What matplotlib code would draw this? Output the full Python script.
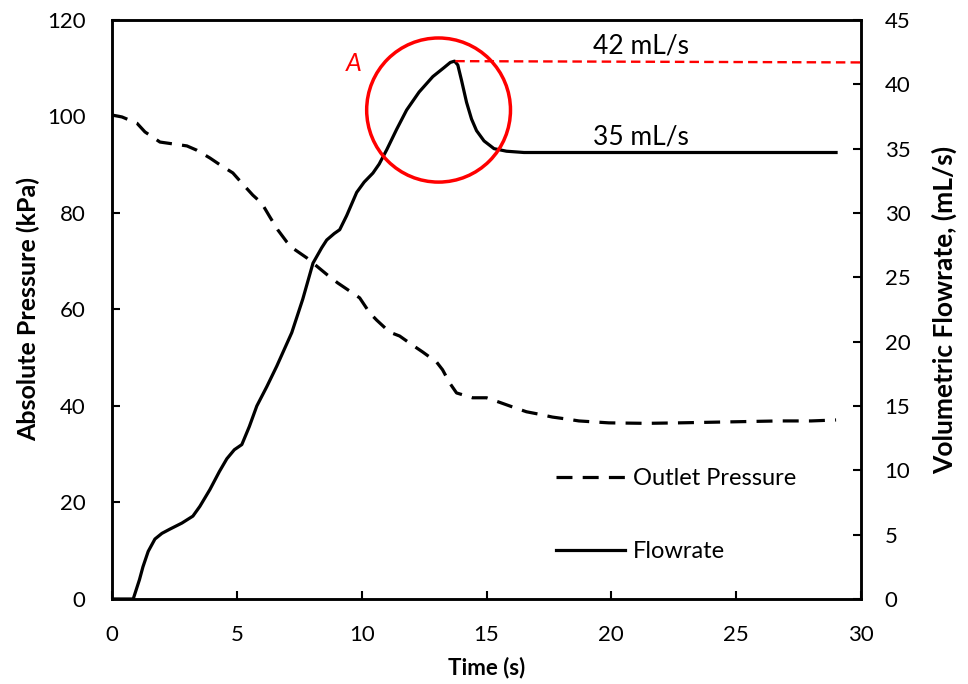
import numpy as np
import matplotlib.pyplot as plt
from matplotlib.patches import Ellipse

plt.rcParams['font.family'] = ['Lato', 'DejaVu Sans']

# flowrate (right axis)
flow_t = [0, 0.5, 0.85, 1.1, 1.24, 1.45, 1.72, 2.0, 2.32, 2.8, 3.24, 3.52, 3.92, 4.3, 4.6,
          4.9, 5.2, 5.5, 5.8, 6.2, 6.6, 7.2, 7.64, 8.05, 8.4, 8.6, 8.9, 9.12, 9.4, 9.8,
          10.1, 10.45, 10.7, 11.0, 11.4, 11.8, 12.3, 12.85, 13.3, 13.55, 13.72, 13.85,
          14.0, 14.2, 14.4, 14.6, 14.9, 15.3, 15.8, 16.5, 18, 20, 22, 24, 26, 28, 29]
flow = [0, 0, 0, 1.5, 2.5, 3.7, 4.66, 5.1, 5.43, 5.9, 6.44, 7.2, 8.5, 9.9, 10.9,
        11.6, 12.0, 13.4, 15.0, 16.5, 18.1, 20.7, 23.3, 26.1, 27.3, 27.9, 28.4, 28.7, 29.8, 31.6,
        32.4, 33.1, 33.8, 34.9, 36.5, 38.0, 39.4, 40.6, 41.3, 41.7, 41.8, 41.5,
        40.3, 38.6, 37.3, 36.4, 35.6, 35.0, 34.8, 34.7, 34.7, 34.7, 34.7, 34.7, 34.7, 34.7, 34.7]

# outlet pressure (left axis)
pres_t = [0, 0.4, 1.0, 1.32, 1.92, 3.0, 3.4, 3.92, 4.32, 4.84, 5.2, 5.64, 6.0, 6.32,
          6.64, 7.0, 7.24, 7.8, 8.64, 9.04, 9.64, 9.92, 10.32, 10.6, 11.12, 11.52, 12.04,
          12.44, 13.0, 13.24, 13.52, 13.8, 14.44, 15.0, 15.5, 16.04, 16.6, 17.1, 17.64,
          18.2, 18.7, 19.9, 21.4, 22.7, 24.7, 26.7, 28.0, 29.0]
pres = [100.3, 99.9, 98.6, 96.8, 94.7, 93.9, 93.0, 91.4, 90.0, 88.3, 86.2, 83.7, 82.0, 79.2,
        76.5, 74.0, 72.7, 70.7, 67.1, 65.5, 63.4, 62.4, 59.3, 57.8, 55.3, 54.5, 52.6,
        51.2, 49.1, 47.5, 44.8, 42.7, 41.7, 41.7, 40.8, 39.8, 38.8, 38.3, 37.7,
        37.3, 36.9, 36.5, 36.4, 36.5, 36.7, 36.9, 36.9, 37.1]

peak_flow = 41.8

fig = plt.figure(figsize=(9.68, 6.84), dpi=100)
ax = fig.add_axes([0.1157, 0.1243, 0.7738, 0.8465])
ax2 = ax.twinx()

lp, = ax.plot(pres_t, pres, color='k', lw=2.3, dashes=(5, 3.2), label='Outlet Pressure')
lf, = ax2.plot(flow_t, flow, color='k', lw=2.3, label='Flowrate')

# peak marker
ax2.plot([13.75, 30], [peak_flow, peak_flow - 0.1], color='red', lw=1.7, dashes=(4, 2.2), clip_on=False)
ax2.add_patch(Ellipse((13.08, 38.0), 5.76, 11.2, fill=False, ec='red', lw=2.5, zorder=5))
ax2.text(9.7, 41.6, 'A', color='red', fontsize=18, style='italic', ha='center', va='center')
ax2.text(21.2, 43.0, '42 mL/s', fontsize=19, ha='center', va='center')
ax2.text(21.2, 35.9, '35 mL/s', fontsize=19, ha='center', va='center')

ax.set_xlim(0, 30)
ax.set_ylim(0, 120)
ax2.set_ylim(0, 45)
ax.set_xticks(np.arange(0, 31, 5))
ax.set_yticks(np.arange(0, 121, 20))
ax2.set_yticks(np.arange(0, 46, 5))

for a in (ax, ax2):
    a.tick_params(direction='in', length=6, width=1.5, labelsize=16)
    for s in a.spines.values():
        s.set_linewidth(1.8)
ax.tick_params(axis='x', pad=19)
ax.tick_params(axis='y', pad=19)
ax2.tick_params(axis='y', pad=17)

ax.set_xlabel('Time (s)', fontsize=16, fontweight='bold')
ax.set_ylabel('Absolute Pressure (kPa)', fontsize=18, fontweight='bold')
ax2.set_ylabel('Volumetric Flowrate, (mL/s)', fontsize=19, fontweight='bold', rotation=90)
ax.xaxis.set_label_coords(0.5, -0.1)
ax.yaxis.set_label_coords(-0.096, 0.5)
ax2.yaxis.set_label_coords(1.095, 0.5)

ax2.legend([lp, lf], ['Outlet Pressure', 'Flowrate'], loc='upper left',
           bbox_to_anchor=(0.565, 0.263), frameon=False, fontsize=17,
           handlelength=2.9, handletextpad=0.34, labelspacing=2.2)

fig.savefig('out.png', dpi=100)
